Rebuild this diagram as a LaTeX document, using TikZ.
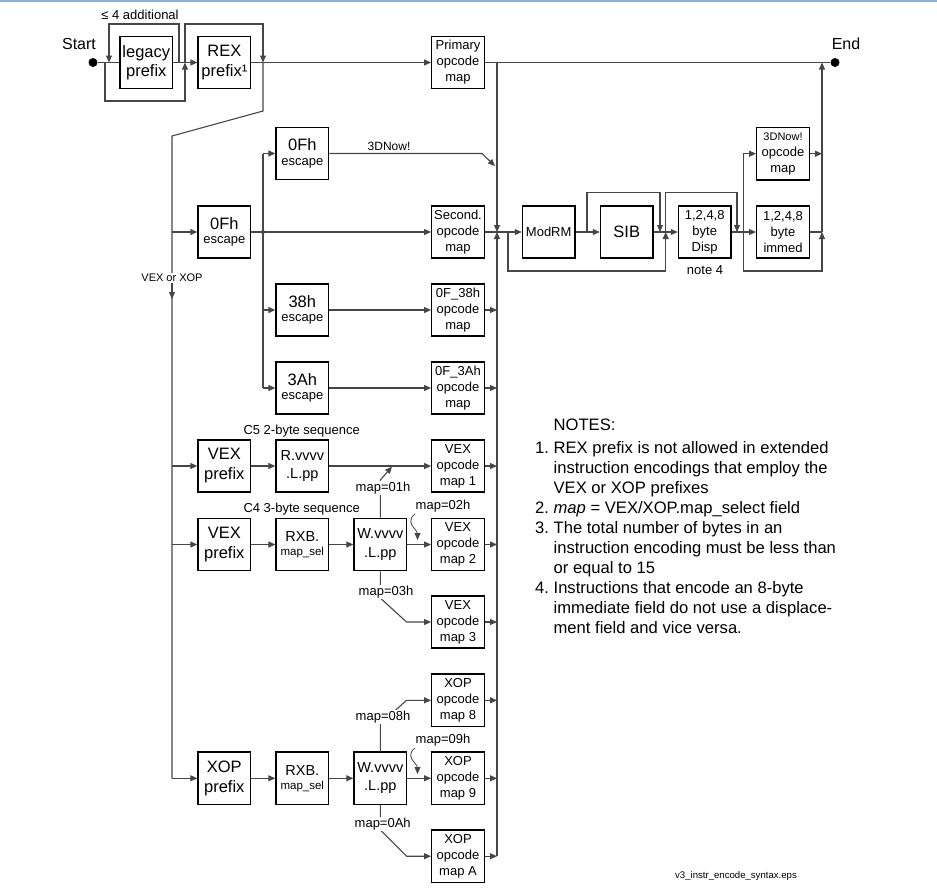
\documentclass[tikz,border=0pt]{standalone}
\usepackage{fontspec}
\setmainfont{Liberation Sans}
\usetikzlibrary{arrows.meta}
\definecolor{linegray}{RGB}{70,70,70}
\definecolor{topblue}{RGB}{150,175,210}
\newcommand\myfs[2]{\fontsize{#1}{#2}\selectfont}
\begin{document}
\begin{tikzpicture}[x=1pt,y=-1pt,
  box/.style={draw=black, line width=1.4pt, minimum width=52.5pt, minimum height=52.3pt,
    inner sep=0pt, align=center, font=\myfs{13}{16}},
  bigbox/.style={box, font=\myfs{16.5}{19.5}},
  conn/.style={draw=linegray, line width=1.1pt},
  arr/.style={conn, -{Triangle[length=7pt,width=6pt]}},
  dot/.style={circle, fill=black, inner sep=0pt, minimum size=9pt},
  jdot/.style={circle, fill=linegray, inner sep=0pt, minimum size=4pt},
  lbl/.style={inner sep=1pt, font=\myfs{13}{16}},
  wlbl/.style={lbl, fill=white}]
\useasboundingbox (0,0) rectangle (937,889);
\draw[topblue, line width=1.6pt] (0,0.8) -- (937,0.8);

% ---- top row
\node[dot] (start) at (93,62.5) {};
\node[lbl, font=\myfs{16}{18}] (startl) at (79,44) {Start};
\node[dot] (end) at (835,62.5) {};
\node[lbl, font=\myfs{16}{18}] (endl) at (846,44) {End};
\node[bigbox] (legacy) at (146.3,62.5) {legacy\\prefix};
\node[bigbox] (rex) at (224.4,62.5) {REX\\prefix¹};
\node[box] (prim) at (458,62.5) {Primary\\opcode\\map};
\node[lbl] (add) at (140,15) {≤ 4 additional};

\coordinate (j1) at (179,62.5);
\coordinate (j2) at (109,62.5);
\coordinate (j3) at (105,62.5);
\coordinate (j4) at (185,62.5);
\coordinate (j5) at (263,62.5);
\coordinate (d1) at (263,111);
\coordinate (d2) at (172,136);
\coordinate (c1) at (497,62.5);
\coordinate (e1) at (822,62.5);

\draw[conn] (start) -- (legacy.west);
\draw[arr] (legacy.east) -- (rex.west);
\draw[arr] (j1) -- ++(0,-38.5) -| (j2);
\draw[arr] (j3) -- ++(0,38.5) -| (j4);
\draw[arr] (j4) -- ++(0,-38.5) -| (j5);
\draw[arr] (rex.east) -- (prim.west);
\draw[conn] (prim.east) -- (end);

% ---- escape column
\node[box] (esc0) at (224.3,232) {{\myfs{16.5}{16}0Fh}\\[-1.5pt]escape};
\node[box] (esc1) at (302.3,153.5) {{\myfs{16.5}{16}0Fh}\\[-1.5pt]escape};
\node[box] (esc38) at (302.3,310) {{\myfs{16.5}{16}38h}\\[-1.5pt]escape};
\node[box] (esc3a) at (302.3,388) {{\myfs{16.5}{16}3Ah}\\[-1.5pt]escape};
\node[box] (sec) at (458,232) {Second.\\opcode\\map};
\node[box] (m38) at (458,310) {0F\_38h\\opcode\\map};
\node[box] (m3a) at (458,388) {0F\_3Ah\\opcode\\map};

% ---- VEX / XOP rows
\node[bigbox, font=\myfs{16.5}{20}] (vex1) at (224.3,466) {VEX\\prefix};
\node[box, font=\myfs{14.5}{18.3}] (rv) at (302.3,466) {R.vvvv\\.L.pp};
\node[box] (vm1) at (458,466) {VEX\\opcode\\map 1};
\node[bigbox, font=\myfs{16.5}{20}] (vex2) at (224.3,544.5) {VEX\\prefix};
\node[box, font=\myfs{11.5}{14}] (rxb1) at (302.3,544.5) {{\myfs{14.5}{14}RXB.}\\map\_sel};
\node[box, font=\myfs{14.5}{18.3}] (wv1) at (380.3,544.5) {W.vvvv\\.L.pp};
\node[box] (vm2) at (458,544.5) {VEX\\opcode\\map 2};
\node[box] (vm3) at (458,622) {VEX\\opcode\\map 3};
\node[box] (xm8) at (458,700.3) {XOP\\opcode\\map 8};
\node[bigbox, font=\myfs{16.5}{20}] (xop) at (224.3,778.3) {XOP\\prefix};
\node[box, font=\myfs{11.5}{14}] (rxb2) at (302.3,778.3) {{\myfs{14.5}{14}RXB.}\\map\_sel};
\node[box, font=\myfs{14.5}{18.3}] (wv2) at (380.3,778.3) {W.vvvv\\.L.pp};
\node[box] (xm9) at (458,778.3) {XOP\\opcode\\map 9};
\node[box] (xma) at (458,856.2) {XOP\\opcode\\map A};

\node[lbl] (c5) at (301.7,431) {C5 2-byte sequence};
\node[lbl] (c4) at (301.7,509) {C4 3-byte sequence};

% ---- left trunk
\coordinate (t1) at (172,778.3);
\draw[conn] (j5) -- (d1) -- (d2) -- (t1);
\draw[arr] (d2 |- esc0) -- (esc0.west);
\draw[arr] (d2 |- vex1) -- (vex1.west);
\draw[arr] (d2 |- vex2) -- (vex2.west);
\draw[arr] (t1) -- (xop.west);
\node[lbl, fill=white, font=\myfs{11}{13}] (vxl) at (172,278) {VEX or XOP};
\coordinate (vxa) at (172,299);
\draw[arr] (vxl.south) -- (vxa);

% ---- escape branches
\coordinate (b1) at (263,232);
\coordinate (b2) at (263,153.5);
\coordinate (b3) at (263,388);
\draw[conn] (b2) -- (b3);
\draw[arr] (esc0.east) -- (sec.west);
\node[jdot] (bd) at (b1) {};
\draw[arr] (b2) -- (esc1.west);
\draw[arr] (b1 |- esc38) -- (esc38.west);
\draw[arr] (b3) -- (esc3a.west);
\draw[arr] (esc38.east) -- (m38.west);
\draw[arr] (esc3a.east) -- (m3a.west);
\coordinate (k1) at (482,153.5);
\coordinate (k2) at (495,166);
\draw[arr] (esc1.east) -- (k1) -- (k2);
\node[lbl, font=\myfs{12}{14}] (dn) at (389,146) {3DNow!};

% ---- VEX rows connections
\draw[arr] (vex1.east) -- (rv.west);
\draw[arr] (rv.east) -- (vm1.west);
\draw[arr] (vex2.east) -- (rxb1.west);
\draw[arr] (rxb1.east) -- (wv1.west);
\draw[arr] (wv1.east) -- (vm2.west);
\draw[arr] (xop.east) -- (rxb2.west);
\draw[arr] (rxb2.east) -- (wv2.west);
\draw[arr] (wv2.east) -- (xm9.west);

\coordinate (p1) at (380.3,480);
\coordinate (p2) at (392,466.6);
\draw[arr] (wv1.north) -- (p1) -- (p2);
\node[wlbl] (l01) at (383,488) {map=01h};

\coordinate (p3) at (380.3,598);
\coordinate (p4) at (406.5,622);
\draw[arr] (wv1.south) -- (p3) -- (p4) -- (vm3.west);
\node[wlbl] (l03) at (386,592) {map=03h};

\node[lbl] (l02) at (443,506) {map=02h};
\coordinate (q1) at (415,514);
\coordinate (q2) at (417.5,540);
\draw[arr, line width=0.8pt] (q1) .. controls (408,519) and (411,525) .. (414,528) .. controls (417,531) and (417.5,534) .. (q2);

\coordinate (p5) at (380.3,724);
\coordinate (p6) at (406.5,700.3);
\draw[arr] (wv2.north) -- (p5) -- (p6) -- (xm8.west);
\node[wlbl] (l08) at (383,717) {map=08h};

\node[lbl] (l09) at (443,740) {map=09h};
\coordinate (q3) at (415,748);
\coordinate (q4) at (417.5,774);
\draw[arr, line width=0.8pt] (q3) .. controls (408,753) and (411,759) .. (414,762) .. controls (417,765) and (417.5,768) .. (q4);

\coordinate (p7) at (380.3,830);
\coordinate (p8) at (406.5,856.2);
\draw[arr] (wv2.south) -- (p7) -- (p8) -- (xma.west);
\node[wlbl] (l0a) at (382.7,824) {map=0Ah};

% ---- collection line
\coordinate (m0) at (497,232);
\coordinate (cb) at (497,856.2);
\draw[arr] (c1) -- (m0);
\draw[arr] (cb) -- (m0);
\foreach \n in {m38,m3a,vm1,vm2,vm3,xm8,xm9,xma}
  \draw[arr] (\n.east) -- (\n.east -| cb);

% ---- right section
\node[box] (modrm) at (548.7,232) {ModRM};
\node[box, font=\myfs{16.5}{18}] (sib) at (626.7,232) {SIB};
\node[box] (disp) at (704.7,232) {1,2,4,8\\byte\\Disp};
\node[box] (imm) at (783,232) {1,2,4,8\\byte\\immed};
\node[box] (dnm) at (783,153.7) {{\myfs{11}{16}3DNow!}\\opcode\\map};
\node[lbl] (n4) at (705,270) {note 4};

\draw[arr] (sec.east) -- (modrm.west);
\draw[arr] (modrm.east) -- (sib.west);
\draw[arr] (sib.east) -- (disp.west);
\draw[arr] (disp.east) -- (imm.west);

\coordinate (r1) at (587,232);
\coordinate (r2) at (660,232);
\draw[arr] (r1) -- ++(0,-39.3) -| (r2);
\coordinate (r3) at (508,232);
\coordinate (r4) at (665.7,232);
\draw[arr] (r3) -- ++(0,39) -| (r4);
\coordinate (r5) at (737,232);
\draw[arr] (r4) -- ++(0,-39.3) -| (r5);
\coordinate (s1) at (743.3,153.7);
\coordinate (s2) at (743.3,271);
\coordinate (s3) at (822,232);
\draw[conn] (s1) -- (s2);
\draw[arr] (s1) -- (dnm.west);
\draw[arr] (s2) -| (s3);
\draw[conn] (imm.east) -- (s3);
\draw[arr] (dnm.east) -- (dnm.east -| s3);
\draw[arr] (s3) -- (e1);

% ---- notes
\node[anchor=base west, inner sep=0pt, font=\myfs{16.6}{20}] (notes) at (535,430) {%
\begin{tabular}[t]{@{}l@{\ }l@{}}
 & NOTES:\\[3pt]
1. & REX prefix is not allowed in extended\\
 & instruction encodings that employ the\\
 & VEX or XOP prefixes\\
2. & \textit{map} = VEX/XOP.map\_select field\\
3. & The total number of bytes in an\\
 & instruction encoding must be less than\\
 & or equal to 15\\
4. & Instructions that encode an 8-byte\\
 & immediate field do not use a displace-\\
 & ment field and vice versa.
\end{tabular}};

\node[lbl, font=\myfs{9.6}{11}] (fname) at (736,876) {v3\_instr\_encode\_syntax.eps};
\end{tikzpicture}
\end{document}
